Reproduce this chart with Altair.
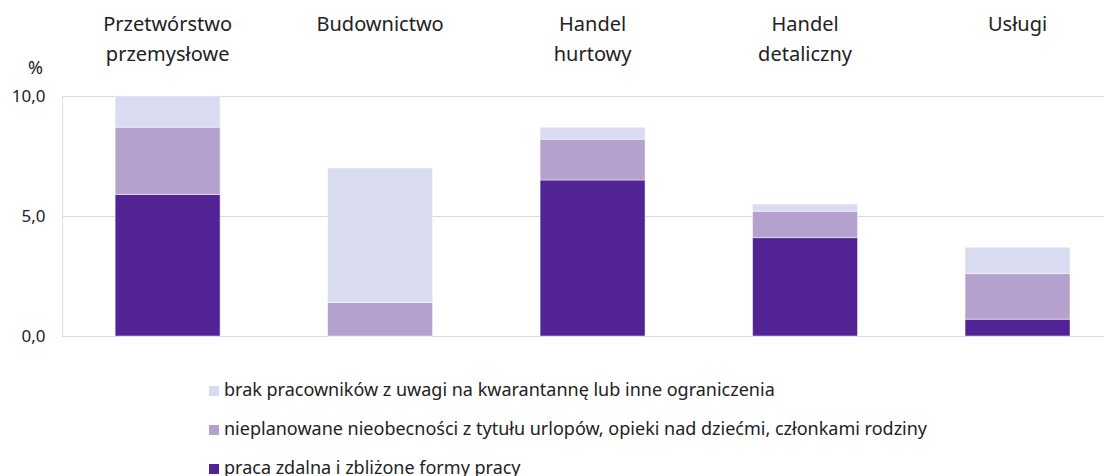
import altair as alt
import pandas as pd

categories = ["Przetwórstwo przemysłowe", "Budownictwo", "Handel hurtowy", "Handel detaliczny", "Usługi"]
series = [
    "brak pracowników z uwagi na kwarantannę lub inne ograniczenia",
    "nieplanowane nieobecności z tytułu urlopów, opieki nad dziećmi, członkami rodziny",
    "praca zdalna i zbliżone formy pracy",
]
colors = ["#d9dbf0", "#b4a1cd", "#522394"]
brak = [1.3, 5.6, 0.5, 0.3, 1.1]
niepl = [2.8, 1.4, 1.7, 1.1, 1.9]
zdalna = [5.9, 0.0, 6.5, 4.1, 0.7]

rows = []
for i, c in enumerate(categories):
    rows.append({"kat": c, "seria": series[2], "v": zdalna[i], "ord": 0})
    rows.append({"kat": c, "seria": series[1], "v": niepl[i], "ord": 1})
    rows.append({"kat": c, "seria": series[0], "v": brak[i], "ord": 2})
df = pd.DataFrame(rows)

FONT = "Noto Sans"
TXT = "#222222"

chart = alt.Chart(df).mark_bar(stroke="white", strokeWidth=0.8, strokeOpacity=0.6).encode(
    x=alt.X(
        "kat:N",
        sort=categories,
        scale=alt.Scale(paddingInner=0.506, paddingOuter=0.205, align=0.61),
        axis=alt.Axis(
            orient="top", title=None, domain=False, ticks=False, tickSize=0,
            labelAngle=0, labelAlign="center", labelBaseline="middle",
            labelPadding=72, labelFontSize=20, labelLineHeight=30,
            labelColor=TXT, labelFont=FONT,
            labelExpr="split(datum.label, ' ')",
        ),
    ),
    y=alt.Y(
        "v:Q",
        stack="zero",
        scale=alt.Scale(domain=[0, 10], nice=False),
        axis=alt.Axis(
            values=[0, 5, 10], domain=False, ticks=False, tickSize=0,
            labelPadding=17, labelFontSize=17, labelColor=TXT, labelFont=FONT,
            labelExpr="replace(format(datum.value, '.1f'), '.', ',')",
            gridColor="#d9d9d9", gridWidth=1.2,
            title="%", titleAngle=0, titleX=-27, titleY=-28,
            titleAlign="center", titleBaseline="middle",
            titleFontSize=18, titleFontWeight="normal", titleColor=TXT, titleFont=FONT,
        ),
    ),
    color=alt.Color(
        "seria:N",
        scale=alt.Scale(domain=series, range=colors),
        legend=alt.Legend(
            orient="none", legendX=143, legendY=286, direction="vertical",
            title=None, symbolType="square", symbolSize=100, symbolStrokeWidth=0,
            labelFontSize=18, labelFont=FONT, labelColor=TXT, labelOffset=1,
            rowPadding=21, padding=0, labelLimit=900,
        ),
    ),
    order=alt.Order("ord:Q", sort="ascending"),
).properties(
    width=1042,
    height=240,
    autosize=alt.AutoSizeParams(type="none"),
    padding={"left": 54, "top": 88, "right": 0, "bottom": 140},
).configure_view(stroke=None).configure(font=FONT)

chart.save("out.html", embed_options={"renderer": "svg", "actions": False})
